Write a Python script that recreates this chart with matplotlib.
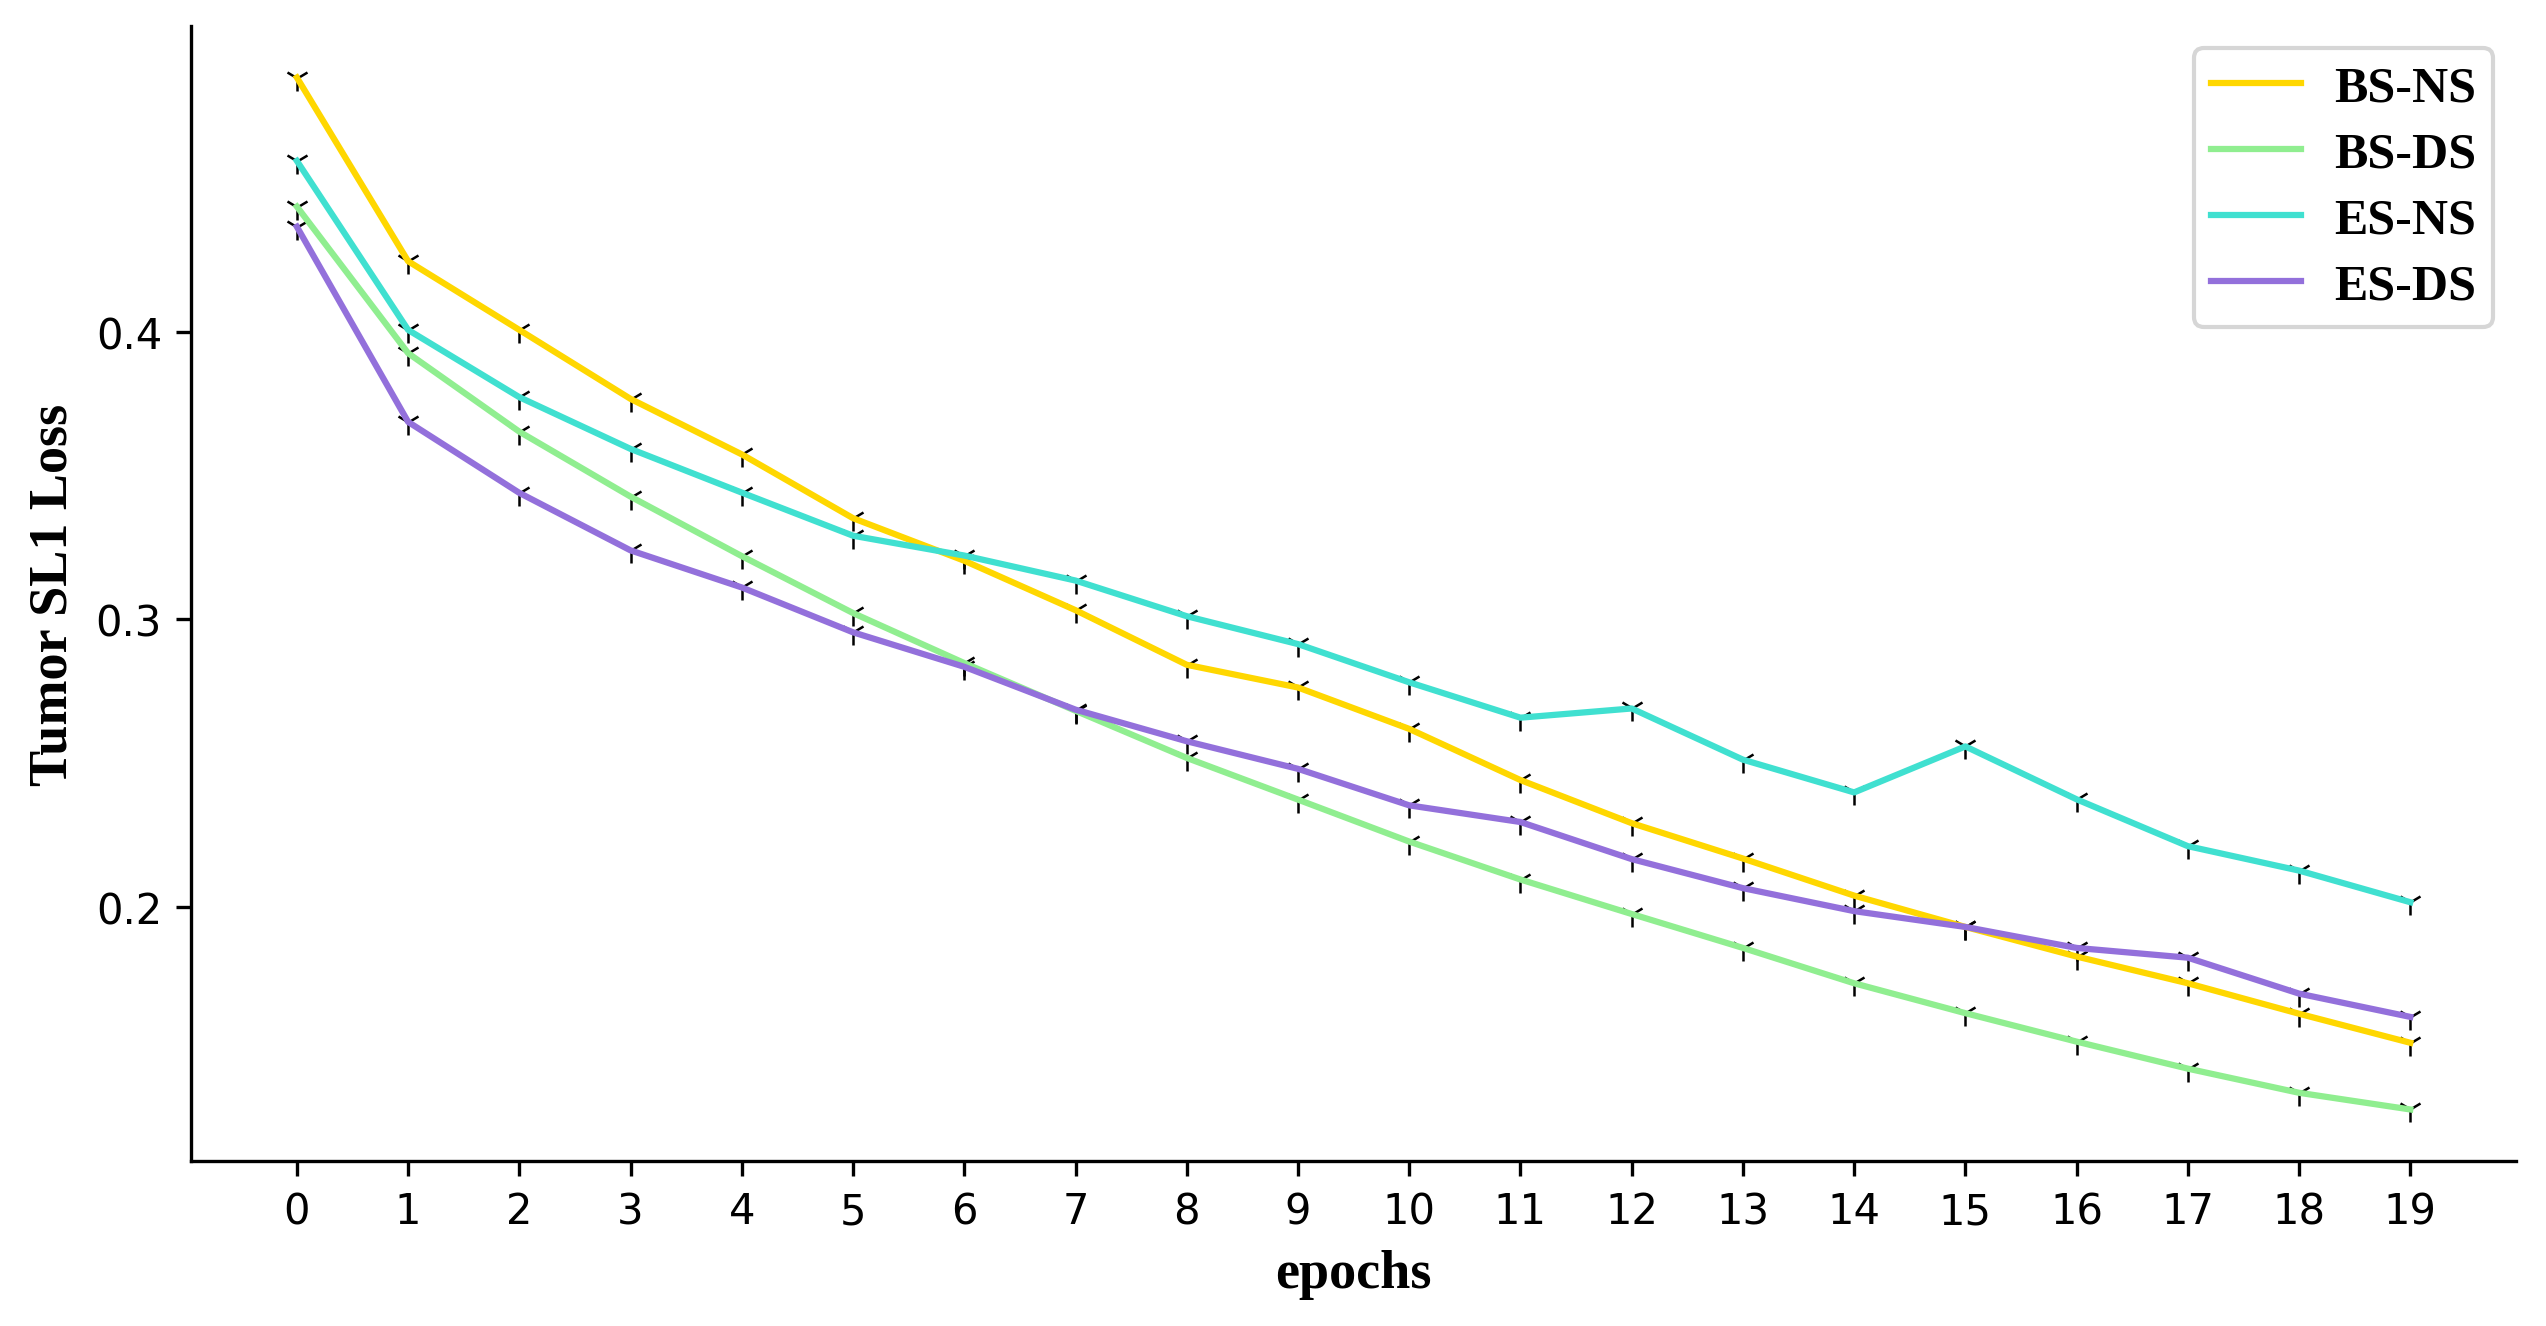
import matplotlib
matplotlib.use("Agg")
import matplotlib.pyplot as plt

epochs = list(range(20))

bs_ns = [0.4884, 0.4245, 0.4006, 0.3766, 0.3573, 0.3351, 0.3203, 0.3031, 0.2841, 0.2762,
         0.2618, 0.2440, 0.2290, 0.2167, 0.2038, 0.1929, 0.1826, 0.1733, 0.1627, 0.1526]
bs_ds = [0.4435, 0.3925, 0.3652, 0.3426, 0.3219, 0.3021, 0.2847, 0.2681, 0.2517, 0.2372,
         0.2226, 0.2094, 0.1974, 0.1856, 0.1733, 0.1629, 0.1530, 0.1436, 0.1352, 0.1294]
es_ns = [0.4594, 0.4006, 0.3772, 0.3592, 0.3440, 0.3290, 0.3221, 0.3134, 0.3010, 0.2913,
         0.2780, 0.2657, 0.2689, 0.2511, 0.2397, 0.2557, 0.2373, 0.2210, 0.2125, 0.2015]
es_ds = [0.4365, 0.3686, 0.3439, 0.3239, 0.3110, 0.2954, 0.2834, 0.2685, 0.2575, 0.2479,
         0.2352, 0.2294, 0.2165, 0.2064, 0.1984, 0.1929, 0.1856, 0.1822, 0.1697, 0.1616]

series = [("BS-NS", bs_ns, "gold"),
          ("BS-DS", bs_ds, "lightgreen"),
          ("ES-NS", es_ns, "turquoise"),
          ("ES-DS", es_ds, "mediumpurple")]

serif = ["Liberation Serif", "DejaVu Serif"]

fig = plt.figure(figsize=(2546 / 300, 1327 / 300), dpi=300)
ax = fig.add_subplot(111)
fig.subplots_adjust(left=0.0751, right=0.9882, bottom=0.1243, top=0.9797)

for name, vals, col in series:
    # markers sit under the coloured line
    ax.plot(epochs, vals, "1", color="k", ms=6, mew=0.6, zorder=1.5)
    ax.plot(epochs, vals, color=col, lw=1.5, label=name, zorder=2)

ax.set_xticks(epochs)
ax.set_yticks([0.2, 0.3, 0.4])
ax.tick_params(labelsize=10)
ax.spines["top"].set_visible(False)
ax.spines["right"].set_visible(False)

ax.set_xlabel("epochs", fontsize=13, fontweight="bold", family=serif)
ax.set_ylabel("Tumor SL1 Loss", fontsize=13, fontweight="bold", family=serif)

ax.legend(loc="upper right", prop={"family": serif, "weight": "bold", "size": 12},
          handlelength=1.8, handletextpad=0.65, labelspacing=0.4,
          borderpad=0.35, borderaxespad=0.45)

fig.savefig("out.png", dpi=300)
